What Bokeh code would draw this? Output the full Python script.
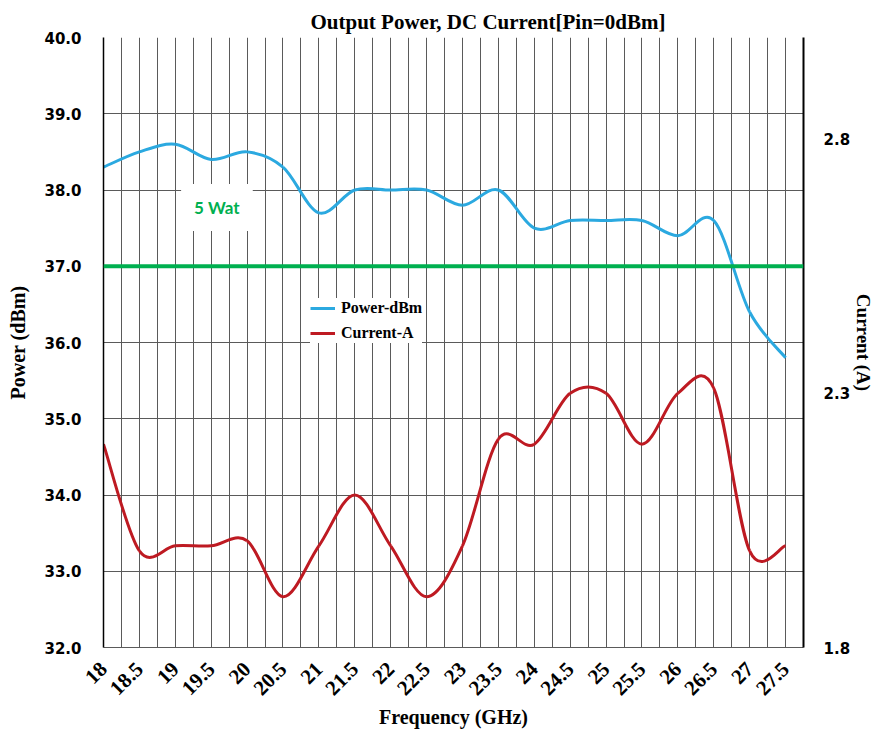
from math import pi
from bokeh.plotting import figure
from bokeh.models import (Range1d, LinearAxis, FixedTicker, Span, Label, Legend,
                          LegendItem, NumeralTickFormatter)
from bokeh.embed import file_html
from bokeh.resources import INLINE

# ---------------- data ----------------
freqs = [18, 18.5, 19, 19.5, 20, 20.5, 21, 21.5, 22, 22.5,
         23, 23.5, 24, 24.5, 25, 25.5, 26, 26.5, 27, 27.5]
freq_labels = ["18", "18.5", "19", "19.5", "20", "20.5", "21", "21.5", "22", "22.5",
               "23", "23.5", "24", "24.5", "25", "25.5", "26", "26.5", "27", "27.5"]
power_dbm = [38.3, 38.5, 38.6, 38.4, 38.5, 38.3, 37.7, 38.0, 38.0, 38.0,
             37.8, 38.0, 37.5, 37.6, 37.6, 37.6, 37.4, 37.6, 36.4, 35.8]
current_a = [2.2, 1.99, 2.0, 2.0, 2.01, 1.9, 2.0, 2.1, 2.0, 1.9,
             2.0, 2.21, 2.2, 2.3, 2.3, 2.2, 2.3, 2.31, 1.99, 2.0]
power_ticks = [32, 33, 34, 35, 36, 37, 38, 39, 40]
current_ticks = [1.8, 2.3, 2.8]
threshold_dbm = 37.0
threshold_label = "5 Wat"
x_end = 27.75
power_range = (32, 40)
current_range = (1.8, 3.0)

BLUE = "#2BA9E0"
RED = "#BE1A22"
GREEN = "#00B050"
GRID = "#5a5a5a"
SERIF = "Liberation Serif"
SANS = "DejaVu Sans"


def smooth_segments(xs, ys):
    """Cubic Bezier segments (Catmull-Rom style, like a smoothed spreadsheet line)."""
    n = len(xs)
    out = dict(x0=[], y0=[], x1=[], y1=[], cx0=[], cy0=[], cx1=[], cy1=[])
    for i in range(n - 1):
        a = i - 1 if i > 0 else i
        d = i + 2 if i + 2 < n else i + 1
        out["x0"].append(xs[i]); out["y0"].append(ys[i])
        out["x1"].append(xs[i + 1]); out["y1"].append(ys[i + 1])
        out["cx0"].append(xs[i] + (xs[i + 1] - xs[a]) / 6.0)
        out["cy0"].append(ys[i] + (ys[i + 1] - ys[a]) / 6.0)
        out["cx1"].append(xs[i + 1] - (xs[d] - xs[i]) / 6.0)
        out["cy1"].append(ys[i + 1] - (ys[d] - ys[i]) / 6.0)
    return out


def no_ticks(ax):
    ax.major_tick_out = 0
    ax.major_tick_in = 0
    ax.minor_tick_out = 0
    ax.minor_tick_in = 0
    ax.major_tick_line_color = None
    ax.minor_tick_line_color = None


p = figure(width=877, height=738, output_backend="svg", toolbar_location=None,
           x_range=Range1d(freqs[0], x_end), y_range=Range1d(*power_range),
           min_border_left=103, min_border_right=71, min_border_top=37, min_border_bottom=91)
p.outline_line_color = None
p.background_fill_color = "white"

# title
p.title.text = "Output Power, DC Current[Pin=0dBm]"
p.title.text_font = SERIF
p.title.text_font_style = "bold"
p.title.text_font_size = "21px"
p.title.text_color = "black"
p.title.align = "left"
p.title.offset = 207
p.title.standoff = 7

# x axis
xt = FixedTicker(ticks=freqs,
                 minor_ticks=[(a + b) / 2 for a, b in zip(freqs[:-1], freqs[1:])])
xa = p.xaxis[0]
no_ticks(xa)
xa.ticker = xt
xa.major_label_overrides = {(int(f) if float(f).is_integer() else f): lbl
                            for f, lbl in zip(freqs, freq_labels)}
xa.major_label_orientation = pi / 4
xa.major_label_text_font = SERIF
xa.major_label_text_font_style = "bold"
xa.major_label_text_font_size = "21px"
xa.major_label_text_color = "black"
xa.major_label_standoff = 18
xa.axis_line_color = GRID
xa.axis_label = "Frequency (GHz)"
xa.axis_label_text_font = SERIF
xa.axis_label_text_font_style = "bold"
xa.axis_label_text_font_size = "20px"
xa.axis_label_text_color = "black"
xa.axis_label_standoff = 2

# left axis
ya = p.yaxis[0]
no_ticks(ya)
ya.ticker = FixedTicker(ticks=power_ticks)
ya.formatter = NumeralTickFormatter(format="0.0")
ya.major_label_text_font = SANS
ya.major_label_text_font_style = "bold"
ya.major_label_text_font_size = "15px"
ya.major_label_text_color = "black"
ya.major_label_standoff = 22
ya.axis_line_color = "black"
ya.axis_line_width = 1.5
ya.axis_label = "Power (dBm)"
ya.axis_label_text_font = SERIF
ya.axis_label_text_font_style = "bold"
ya.axis_label_text_font_size = "20px"
ya.axis_label_text_color = "black"
ya.axis_label_standoff = 12

# right axis
p.extra_y_ranges = {"cur": Range1d(*current_range)}
ra = LinearAxis(y_range_name="cur", ticker=FixedTicker(ticks=current_ticks),
                formatter=NumeralTickFormatter(format="0.0"))
no_ticks(ra)
ra.major_label_text_font = SANS
ra.major_label_text_font_style = "bold"
ra.major_label_text_font_size = "15px"
ra.major_label_text_color = "black"
ra.major_label_standoff = 20
ra.axis_line_color = "black"
ra.axis_line_width = 2
ra.axis_label = "Current (A)"
ra.axis_label_text_font = SERIF
ra.axis_label_text_font_style = "bold"
ra.axis_label_text_font_size = "19px"
ra.axis_label_text_color = "black"
ra.axis_label_standoff = 0
p.add_layout(ra, "right")

# grids
p.xgrid.ticker = xt
p.xgrid.grid_line_color = GRID
p.xgrid.minor_grid_line_color = GRID
p.xgrid.grid_line_width = 1
p.xgrid.minor_grid_line_width = 1
p.ygrid.ticker = FixedTicker(ticks=power_ticks)
p.ygrid.grid_line_color = GRID
p.ygrid.grid_line_width = 1

# threshold line
p.add_layout(Span(location=threshold_dbm, dimension="width", line_color=GREEN, line_width=4))

# series
ps = smooth_segments(freqs, power_dbm)
r_pow = p.bezier(x0=ps["x0"], y0=ps["y0"], x1=ps["x1"], y1=ps["y1"],
                 cx0=ps["cx0"], cy0=ps["cy0"], cx1=ps["cx1"], cy1=ps["cy1"],
                 line_color=BLUE, line_width=3)
cs = smooth_segments(freqs, current_a)
r_cur = p.bezier(x0=cs["x0"], y0=cs["y0"], x1=cs["x1"], y1=cs["y1"],
                 cx0=cs["cx0"], cy0=cs["cy0"], cx1=cs["cx1"], cy1=cs["cy1"],
                 line_color=RED, line_width=3, y_range_name="cur")

# "5 Wat" label
p.add_layout(Label(x=19.58, y=37.77, text=threshold_label, text_align="center",
                   text_baseline="middle", text_font="Lato", text_font_style="bold",
                   text_font_size="17px", text_color=GREEN,
                   background_fill_color="white", padding=13))

legend = Legend(items=[LegendItem(label="Power-dBm", renderers=[r_pow]),
                       LegendItem(label="Current-A", renderers=[r_cur])],
                location=(207, 304))
legend.background_fill_color = "white"
legend.background_fill_alpha = 1.0
legend.border_line_color = None
legend.label_text_font = SERIF
legend.label_text_font_style = "bold"
legend.label_text_font_size = "16px"
legend.label_text_color = "black"
legend.glyph_width = 25
legend.glyph_height = 18
legend.label_height = 20
legend.label_standoff = 6
legend.spacing = 5
legend.padding = 7
legend.margin = 0
p.add_layout(legend, "center")

open("out.html", "w").write(file_html(p, INLINE))
